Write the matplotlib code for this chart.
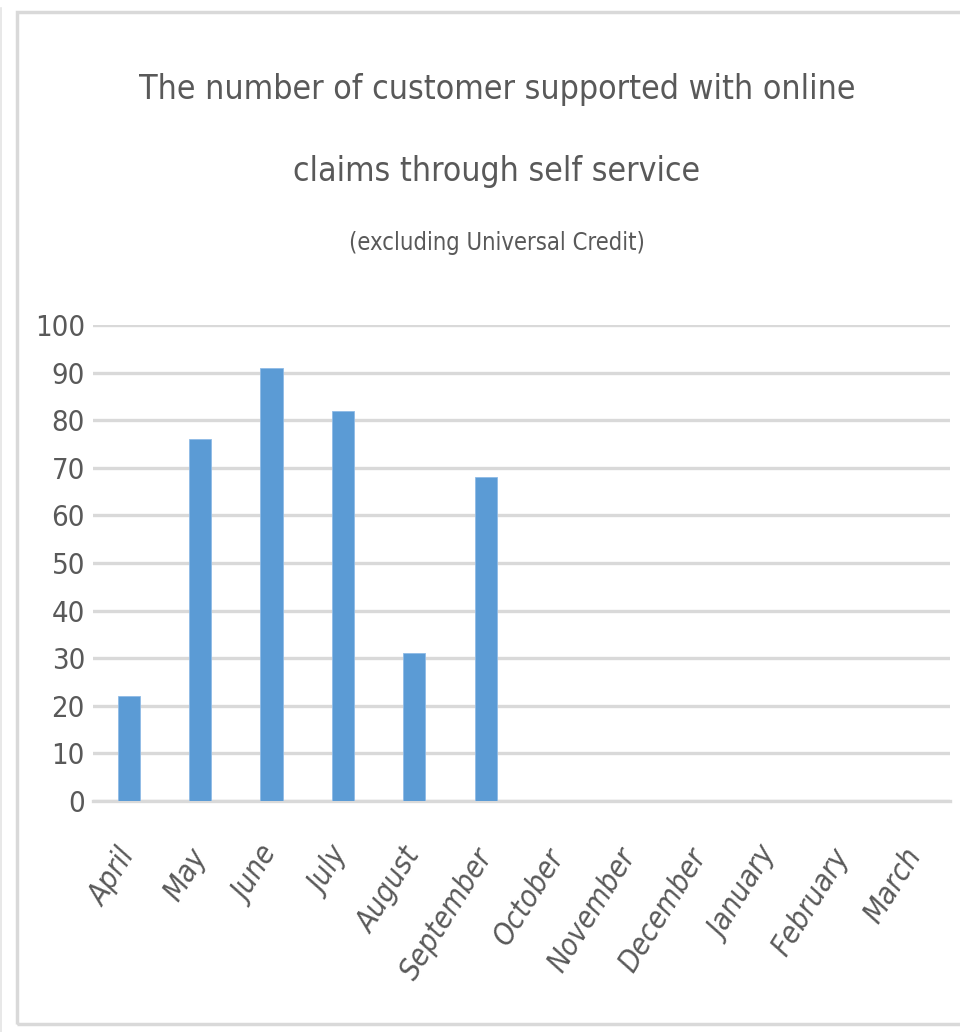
import matplotlib
matplotlib.use("Agg")
import matplotlib.pyplot as plt
import matplotlib.transforms as mtransforms
from matplotlib.patches import Rectangle
from matplotlib.lines import Line2D

months = ["April", "May", "June", "July", "August", "September",
          "October", "November", "December", "January", "February", "March"]
customers = [22, 76, 91, 82, 31, 68, None, None, None, None, None, None]
y_ticks = [0, 10, 20, 30, 40, 50, 60, 70, 80, 90, 100]

title_line1 = "The number of customer supported with online"
title_line2 = "claims through self service"
subtitle = "(excluding Universal Credit)"

BAR = "#5b9bd5"
GRID = "#d9d9d9"
TEXT = "#595959"
FONT = ["DejaVu Sans"]
STRETCH = "condensed"

W, H = 960, 1032
fig = plt.figure(figsize=(W / 100, H / 100), dpi=100)
fig.patch.set_facecolor("white")

# chart frame
fig.add_artist(Rectangle((17 / W, 1 - 1024 / H), 1.0, (1024 - 12) / H,
                         transform=fig.transFigure, fill=False,
                         edgecolor=GRID, linewidth=2.5))
fig.add_artist(Line2D([0.8 / W, 0.8 / W], [0, 1 - 8 / H],
                      transform=fig.transFigure, color="#e4e4e4",
                      linewidth=1.2))

ax = fig.add_axes([93 / W, 1 - 801 / H, (950 - 93) / W, (801 - 325) / H])
x = list(range(len(months)))
bx = [i for i, v in zip(x, customers) if v is not None]
bv = [v for v in customers if v is not None]
ax.bar(bx, bv, width=0.31, color=BAR, edgecolor="#8fbbe6",
       linewidth=0.6, zorder=3)

ax.set_xlim(-0.5, len(months) - 0.5)
ax.set_ylim(0, 100)
ax.set_yticks(y_ticks)
ax.yaxis.grid(True, color=GRID, linewidth=2.4, zorder=0)
ax.axhline(0, color=GRID, linewidth=2.4, clip_on=False, zorder=1)
ax.set_axisbelow(True)
for s in ax.spines.values():
    s.set_visible(False)
ax.tick_params(axis="both", length=0)
ax.tick_params(axis="y", pad=5.8)
for lab in ax.set_yticklabels([str(t) for t in y_ticks]):
    lab.set_fontfamily(FONT)
    lab.set_fontstretch(STRETCH)
    lab.set_fontsize(21)
    lab.set_color(TEXT)

ax.set_xticks(x)
labels = ax.set_xticklabels(months, rotation=58, ha="right", va="center",
                            rotation_mode="anchor", fontsize=21.5, color=TEXT,
                            family=FONT, style="italic")
shift = mtransforms.ScaledTranslation(14 / 100, 0, fig.dpi_scale_trans)
for lab in labels:
    lab.set_fontstretch(STRETCH)
    lab.set_transform(lab.get_transform() + shift)
ax.tick_params(axis="x", pad=36)

fig.text(497 / W, 1 - 89 / H, title_line1, ha="center", va="center",
         fontsize=24.3, color=TEXT, family=FONT, fontstretch=STRETCH)
fig.text(497 / W, 1 - 171 / H, title_line2, ha="center", va="center",
         fontsize=24.2, color=TEXT, family=FONT, fontstretch=STRETCH)
fig.text(497 / W, 1 - 243 / H, subtitle, ha="center", va="center",
         fontsize=17.1, color=TEXT, family=FONT, fontstretch=STRETCH)

fig.savefig("out.png", dpi=100, facecolor="white")
